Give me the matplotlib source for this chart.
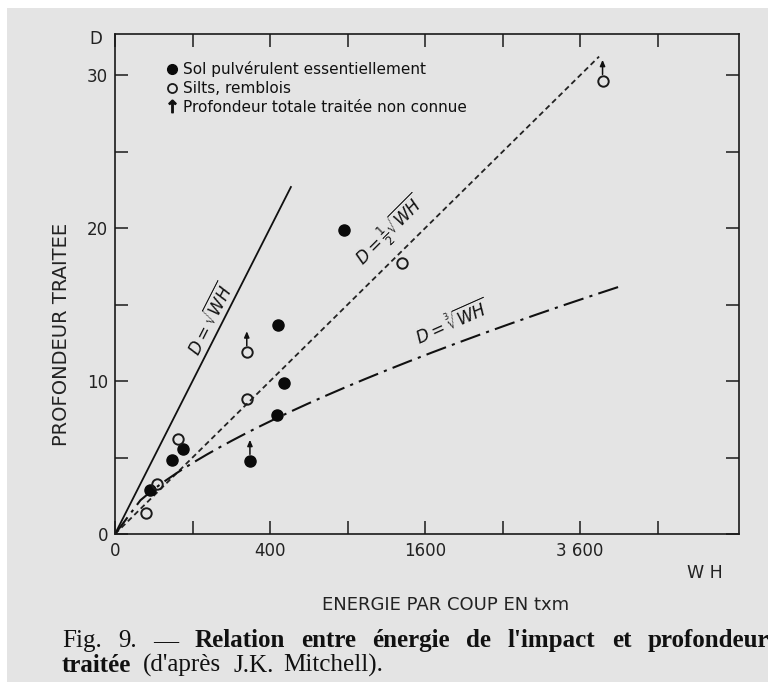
import numpy as np
import matplotlib
matplotlib.use("Agg")
import matplotlib.pyplot as plt
from matplotlib.patches import Rectangle
from matplotlib.lines import Line2D
import matplotlib.transforms as mtransforms

plt.rcParams['font.family'] = ['DejaVu Sans']
plt.rcParams['mathtext.fontset'] = 'dejavusans'

# ---- data (WH in t x m, D in m) ----
filled_wh = [20, 55, 76, 303, 437, 441, 475, 876]
filled_d = [2.9, 4.84, 5.57, 4.8, 7.77, 13.66, 9.87, 19.9]
filled_unknown = [False, False, False, True, False, False, False, False]

open_wh = [16, 30, 67, 289, 289, 1369, 3956]
open_d = [1.4, 3.3, 6.22, 8.85, 11.9, 17.7, 29.65]
open_unknown = [False, False, False, False, True, False, True]

line_end_sqrt = 515      # D = sqrt(WH)
line_end_half = 3900     # D = 1/2 sqrt(WH)
line_end_cbrt = 4300     # D = cbrt(WH)

xmajor = [0, 400, 1600, 3600]
xmajor_labels = ["0", "400", "1600", "3 600"]
xminor = [100, 900, 2500, 4900]
ymajor = [0, 10, 20, 30]
yminor = [5, 15, 25]

legend_labels = ["Sol pulvérulent essentiellement",
                 "Silts, remblois",
                 "Profondeur totale traitée non connue"]

W, H = 773, 682
fig = plt.figure(figsize=(W / 100, H / 100), dpi=100, facecolor='white')
bg = Rectangle((7 / W, 0), (768 - 7) / W, (H - 8) / H, transform=fig.transFigure,
               facecolor='#e4e4e4', edgecolor='none', zorder=-10)
fig.patches.append(bg)

ax = fig.add_axes([115 / W, 1 - 534 / H, (739 - 115) / W, (534 - 34) / H])
ax.set_facecolor('none')
ax.set_xscale('function', functions=(np.sqrt, np.square))
ax.set_xlim(0, 80.5 ** 2)
ax.set_ylim(0, 32.7)

for sp in ax.spines.values():
    sp.set_linewidth(1.2)
    sp.set_color('#1a1a1a')

ax.set_xticks(xmajor)
ax.set_xticklabels(xmajor_labels)
ax.set_xticks(xminor, minor=True)
ax.set_yticks(ymajor)
ax.set_yticks(yminor, minor=True)
ax.tick_params(which='both', direction='in', top=True, right=True,
               length=9.5, width=1.1, color='#1a1a1a')
ax.tick_params(axis='x', which='major', labelsize=12, pad=6, labelcolor='#222222')
ax.tick_params(axis='y', which='major', labelsize=12, pad=5, labelcolor='#222222')

# ---- reference curves ----
w1 = np.linspace(0, line_end_sqrt, 200)
ax.plot(w1, np.sqrt(w1), color='#111111', lw=1.3)
w2 = np.linspace(0, line_end_half, 400)
ax.plot(w2, 0.5 * np.sqrt(w2), color='#222222', lw=1.3, dashes=(3, 2))
w3 = np.linspace(0, line_end_cbrt, 400)
ax.plot(w3, np.cbrt(w3), color='#111111', lw=1.5, dashes=(10, 3, 1.5, 3))

ax.text(152, 14.05, r'$D=\sqrt{WH}$', rotation=63, ha='center', va='center',
        fontsize=12, color='#111111')
ax.text(1252, 19.8, r'$D=\frac{1}{2}\sqrt{WH}$', rotation=45, ha='center', va='center',
        fontsize=12, color='#111111')
ax.text(1890, 13.8, r'$D=\sqrt[3]{WH}$', rotation=24, ha='center', va='center',
        fontsize=12, color='#111111')

# ---- points ----
ax.plot(filled_wh, filled_d, ls='none', marker='o', ms=8, mfc='#0a0a0a',
        mec='#0a0a0a', zorder=5)
ax.plot(open_wh, open_d, ls='none', marker='o', ms=7.5, mfc='none',
        mec='#1a1a1a', mew=1.4, zorder=5)

tail = mtransforms.offset_copy(ax.transData, fig=fig, x=0, y=4.5, units='points')
head = mtransforms.offset_copy(ax.transData, fig=fig, x=0, y=15, units='points')
for xs, ys, flags in [(filled_wh, filled_d, filled_unknown), (open_wh, open_d, open_unknown)]:
    for xv, yv, f in zip(xs, ys, flags):
        if f:
            ax.annotate('', xy=(xv, yv), xycoords=head, xytext=(xv, yv), textcoords=tail,
                        arrowprops=dict(arrowstyle='-|>,head_length=0.35,head_width=0.15',
                                        color='#111111', lw=1.1, shrinkA=0, shrinkB=0))

# ---- legend ----
handles = [Line2D([], [], ls='none', marker='o', ms=7, mfc='#0a0a0a', mec='#0a0a0a'),
           Line2D([], [], ls='none', marker='o', ms=6.5, mfc='none', mec='#1a1a1a', mew=1.3),
           Line2D([], [], ls='none', marker=r'$\uparrow$', ms=9, color='#111111')]
leg = ax.legend(handles, legend_labels, loc='upper left', bbox_to_anchor=(0.075, 0.958),
                frameon=False, handlelength=0.6, handletextpad=0.4, labelspacing=0.25,
                fontsize=11, borderaxespad=0)
for t in leg.get_texts():
    t.set_color('#111111')

# ---- axis labels ----
ax.set_xlabel('ENERGIE PAR COUP EN txm', fontsize=13, color='#222222')
ax.xaxis.set_label_coords(0.529, -0.125)
ax.set_ylabel('PROFONDEUR TRAITEE', fontsize=14, color='#222222')
ax.yaxis.set_label_coords(-0.07, 0.40)
ax.text(-0.03, 0.99, 'D', transform=ax.transAxes, ha='center', va='center',
        fontsize=12, color='#222222')
ax.text(0.946, -0.078, 'W H', transform=ax.transAxes, ha='center', va='center',
        fontsize=12.5, color='#222222')

# ---- caption ----
fig.canvas.draw()
rend = fig.canvas.get_renderer()
cap_kw = dict(family='Liberation Serif', fontsize=18, color='#111111', va='baseline')


def word_widths(words):
    ws = []
    for s, wt in words:
        t = fig.text(0, 0, s, fontweight=wt, **cap_kw)
        ws.append(t.get_window_extent(rend).width)
        t.remove()
    return ws


line1 = [("Fig.", 'normal'), ("9.", 'normal'), ("—", 'normal'), ("Relation", 'bold'),
         ("entre", 'bold'), ("énergie", 'bold'), ("de", 'bold'), ("l'impact", 'bold'),
         ("et", 'bold'), ("profondeur", 'bold')]
line2 = [("traitée", 'bold'), ("(d'après", 'normal'), ("J.K.", 'normal'),
         ("Mitchell).", 'normal')]

x0, x1 = 62, 769
ws = word_widths(line1)
gap = (x1 - x0 - sum(ws)) / (len(ws) - 1)
x = x0
for (s, wt), w in zip(line1, ws):
    fig.text(x / W, 1 - 647 / H, s, fontweight=wt, **cap_kw)
    x += w + gap

ws2 = word_widths(line2)
gaps2 = [11, 13, 9]
x = x0
for i, ((s, wt), w) in enumerate(zip(line2, ws2)):
    fig.text(x / W, 1 - 672 / H, s, fontweight=wt, **cap_kw)
    if i < len(gaps2):
        x += w + gaps2[i]

fig.savefig('out.png', dpi=100, facecolor=fig.get_facecolor())
